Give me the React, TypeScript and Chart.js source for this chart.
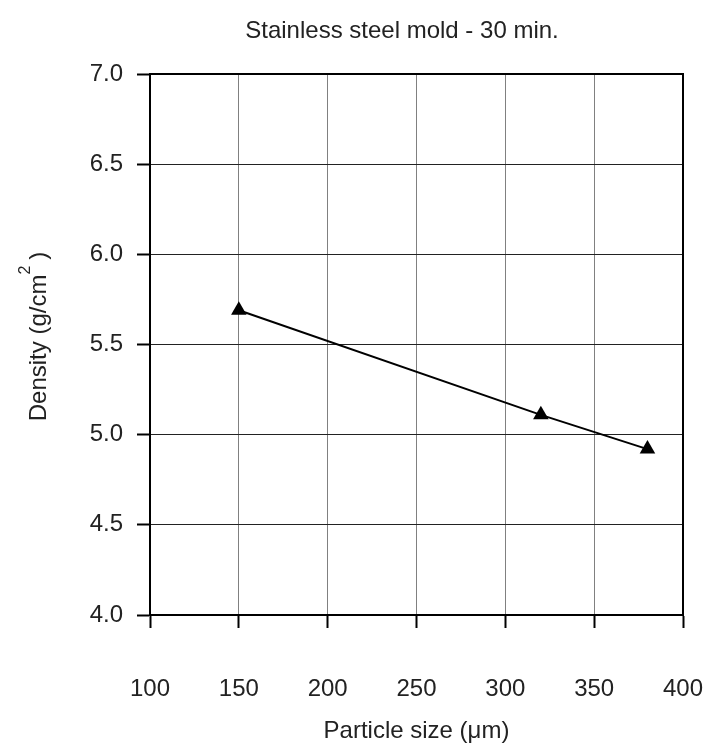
import React, { useEffect, useRef } from "react";
import { Chart, registerables } from "chart.js";

Chart.register(...registerables);

const particleSizes = [150, 320, 380];
const densities = [5.69, 5.11, 4.92];
const xTicks = [100, 150, 200, 250, 300, 350, 400];
const yTicks = [4.0, 4.5, 5.0, 5.5, 6.0, 6.5, 7.0];
const chartTitle = "Stainless steel mold - 30 min.";
const xTitle = "Particle size (\u03bcm)";
const yTitleMain = "Density (g/cm";
const yTitleSup = "2";
const yTitleEnd = ")";

const FONT = "'Liberation Sans', Arial, Helvetica, sans-serif";

const textPlugin = {
  id: "textPlugin",
  afterDraw(chart: any) {
    const ctx = chart.ctx;
    const area = chart.chartArea;
    ctx.save();
    // frame
    ctx.strokeStyle = "#000";
    ctx.lineWidth = 2;
    ctx.strokeRect(area.left, area.top, area.right - area.left, area.bottom - area.top);
    ctx.fillStyle = "#222";
    ctx.font = `24px ${FONT}`;
    ctx.textAlign = "center";
    ctx.textBaseline = "alphabetic";
    ctx.fillText(chartTitle, 402, 38);
    ctx.fillText(xTitle, (area.left + area.right) / 2, 738);
    // y title
    ctx.translate(46, (area.top + area.bottom) / 2 - 8);
    ctx.rotate(-Math.PI / 2);
    ctx.font = `24px ${FONT}`;
    const w1 = ctx.measureText(yTitleMain).width;
    ctx.font = `16px ${FONT}`;
    const w2 = ctx.measureText(yTitleSup).width;
    ctx.font = `24px ${FONT}`;
    const w3 = ctx.measureText(yTitleEnd).width;
    const gap = 6;
    const total = w1 + w2 + gap + w3;
    let x = -total / 2;
    ctx.textAlign = "left";
    ctx.fillText(yTitleMain, x, 0);
    x += w1;
    ctx.font = `16px ${FONT}`;
    ctx.fillText(yTitleSup, x, -16);
    x += w2 + gap;
    ctx.font = `24px ${FONT}`;
    ctx.fillText(yTitleEnd, x, 0);
    ctx.restore();
  },
};

export default function App() {
  const ref = useRef<HTMLCanvasElement>(null);
  useEffect(() => {
    if (!ref.current) return;
    Chart.defaults.font.family = FONT;
    const chart = new Chart(ref.current, {
      type: "scatter",
      data: {
        datasets: [
          {
            data: particleSizes.map((x, i) => ({ x, y: densities[i] })),
            showLine: true,
            borderColor: "#000",
            borderWidth: 2,
            backgroundColor: "#000",
            pointStyle: "triangle",
            pointRadius: 9,
            pointBorderWidth: 0,
            pointBackgroundColor: "#000",
            tension: 0,
          },
        ],
      },
      plugins: [textPlugin],
      options: {
        responsive: false,
        animation: false,
        events: [],
        layout: { padding: { top: 74, right: 26, left: 0, bottom: 0 } },
        plugins: { legend: { display: false }, tooltip: { enabled: false }, title: { display: false } },
        scales: {
          x: {
            type: "linear",
            min: 100,
            max: 400,
            afterBuildTicks: (s: any) => {
              s.ticks = xTicks.map((v) => ({ value: v }));
            },
            afterFit: (s: any) => {
              s.height = 132;
              s.paddingLeft = 20;
              s.paddingRight = 20;
            },
            grid: { color: "#808080", lineWidth: 1, tickLength: 13, tickColor: "#000", tickWidth: 2 },
            border: { display: true, color: "#000", width: 2 },
            ticks: { color: "#222", font: { size: 24, family: FONT }, padding: 47, maxRotation: 0, autoSkip: false },
          },
          y: {
            type: "linear",
            min: 4,
            max: 7,
            afterBuildTicks: (s: any) => {
              s.ticks = yTicks.map((v) => ({ value: v }));
            },
            afterFit: (s: any) => {
              s.width = 150;
            },
            grid: { color: "#222", lineWidth: 1, tickLength: 13, tickColor: "#000", tickWidth: 2 },
            border: { display: true, color: "#000", width: 2 },
            ticks: {
              color: "#222",
              font: { size: 24, family: FONT },
              padding: 14,
              autoSkip: false,
              callback: (v: any) => Number(v).toFixed(1),
            },
          },
        },
      },
    } as any);
    return () => chart.destroy();
  }, []);
  return (
    <div style={{ position: "absolute", left: 0, top: 0, width: 709, height: 747, background: "#fff" }}>
      <canvas ref={ref} width={709} height={747} style={{ display: "block" }} />
    </div>
  );
}
